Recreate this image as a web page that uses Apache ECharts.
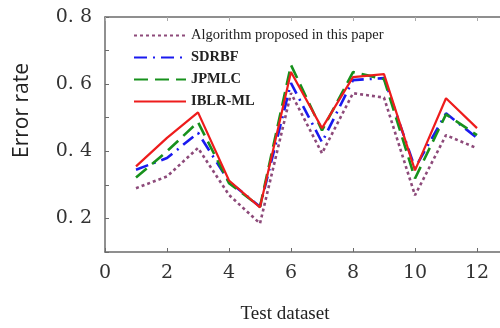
<!DOCTYPE html>
<html><head><meta charset="utf-8">
<script src="https://cdn.jsdelivr.net/npm/echarts@6/dist/echarts.min.js"></script>
<style>html,body{margin:0;padding:0;background:#fff}#c{width:500px;height:328px}</style>
</head><body><div id="c"></div>
<script>
const datasets = [1,2,3,4,5,6,7,8,9,10,11,12];
const proposed = [0.29,0.325,0.41,0.27,0.185,0.573,0.394,0.573,0.56,0.269,0.448,0.409];
const sdrbf    = [0.345,0.38,0.455,0.31,0.235,0.603,0.427,0.612,0.618,0.35,0.513,0.44];
const jpmlc    = [0.322,0.40,0.487,0.305,0.235,0.657,0.462,0.636,0.615,0.319,0.51,0.448];
const iblr     = [0.355,0.44,0.516,0.313,0.233,0.636,0.469,0.621,0.63,0.343,0.558,0.469];
const seriesNames = ['Algorithm proposed in this paper','SDRBF','JPMLC','IBLR-ML'];
const yTickLabels = {0.2:'0. 2',0.4:'0. 4',0.6:'0. 6',0.8:'0. 8'};

const pair = arr => arr.map((v,i)=>[datasets[i], v]);
const serif = 'DejaVu Serif';
const chart = echarts.init(document.getElementById('c'), null, {renderer:'canvas'});
const axisCol = '#6b6b6b';
chart.setOption({
  animation:false,
  backgroundColor:'#fff',
  grid:{left:105, width:434, top:17, height:235, containLabel:false, outerBoundsMode:'none'},
  xAxis:[{
    type:'value', min:0, max:14, interval:2,
    axisLine:{onZero:false, lineStyle:{color:axisCol, width:1.5}},
    axisTick:{inside:true, length:4, lineStyle:{color:axisCol}},
    splitLine:{show:false},
    axisLabel:{margin:12, fontFamily:serif, fontSize:19, color:'#333', showMaxLabel:false}
  },{
    type:'value', min:0, max:14, interval:2, position:'top',
    axisLine:{lineStyle:{color:axisCol, width:1.5}},
    axisTick:{inside:true, length:4, lineStyle:{color:'#aaa'}},
    splitLine:{show:false}, axisLabel:{show:false}
  }],
  yAxis:{
    type:'value', min:0.1, max:0.8, interval:0.1,
    axisLine:{show:true, onZero:false, lineStyle:{color:axisCol, width:1.5}},
    axisTick:{show:true, inside:true, length:4, lineStyle:{color:axisCol}},
    splitLine:{show:false},
    axisLabel:{margin:13, fontFamily:serif, fontSize:19, color:'#333',
      formatter:v=>{const k=Math.round(v*10)/10; return yTickLabels[k]||'';}}
  },
  legend:{
    orient:'vertical', left:128, top:23, itemWidth:52, itemHeight:14, itemGap:7,
    itemStyle:{opacity:0},
    textStyle:{fontFamily:'Liberation Serif', fontSize:14.5, color:'#222', fontWeight:'bold'},
    data:[
      {name:seriesNames[0], textStyle:{fontWeight:'normal'}},
      {name:seriesNames[1]},{name:seriesNames[2]},{name:seriesNames[3]}
    ]
  },
  series:[
    {name:seriesNames[0], type:'line', data:pair(proposed), symbol:'none', z:2,
     lineStyle:{color:'#8d4a7a', width:2.6, type:[3,3]}, itemStyle:{color:'#8d4a7a'}},
    {name:seriesNames[1], type:'line', data:pair(sdrbf), symbol:'none', z:3,
     lineStyle:{color:'#1a1aef', width:2.6, type:[13,6,2,6]}, itemStyle:{color:'#1a1aef'}},
    {name:seriesNames[2], type:'line', data:pair(jpmlc), symbol:'none', z:4,
     lineStyle:{color:'#17911c', width:2.6, type:[14,7]}, itemStyle:{color:'#17911c'}},
    {name:seriesNames[3], type:'line', data:pair(iblr), symbol:'none', z:5,
     lineStyle:{color:'#ee1c1c', width:2.2}, itemStyle:{color:'#ee1c1c'}}
  ],
  graphic:[
    {type:'text', rotation:Math.PI/2, x:12, y:158,
     style:{text:'Error rate', font:'21px "Open Sans"', fill:'#222'}},
    {type:'text', x:285, y:314, style:{text:'Test dataset', font:'19px "Liberation Serif"', fill:'#222', align:'center', verticalAlign:'middle'}}
  ]
});
</script></body></html>
